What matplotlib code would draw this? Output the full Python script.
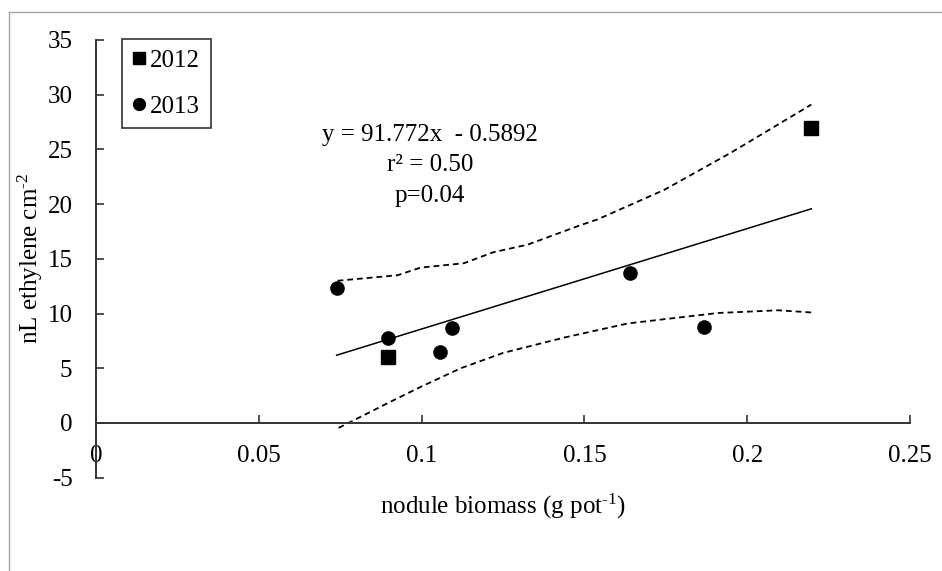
import matplotlib
matplotlib.use("Agg")
import matplotlib.pyplot as plt
from matplotlib.lines import Line2D

plt.rcParams["font.family"] = ["Liberation Serif", "DejaVu Serif"]
plt.rcParams["mathtext.fontset"] = "custom"
plt.rcParams["mathtext.rm"] = "Liberation Serif"
plt.rcParams["mathtext.default"] = "regular"
plt.rcParams["axes.unicode_minus"] = False

# data
x_2012 = [0.0898, 0.2197]
y_2012 = [6.05, 26.95]

x_2013 = [0.0739, 0.0898, 0.1093, 0.1057, 0.1639, 0.1866]
y_2013 = [12.3, 7.8, 8.65, 6.5, 13.75, 8.8]

slope, intercept = 91.772, -0.5892
fit_x = [0.0739, 0.2197]

upper_x = [0.0742, 0.0926, 0.0997, 0.113, 0.122, 0.1326, 0.149, 0.154, 0.1745, 0.195, 0.2197]
upper_y = [13.0, 13.5, 14.2, 14.6, 15.6, 16.3, 18.1, 18.6, 21.3, 24.7, 29.1]

lower_x = [0.0745, 0.0895, 0.0997, 0.112, 0.125, 0.1437, 0.1634, 0.191, 0.2095, 0.2197]
lower_y = [-0.45, 1.8, 3.3, 5.0, 6.4, 7.8, 9.1, 10.05, 10.3, 10.1]

x_ticks = [0, 0.05, 0.1, 0.15, 0.2, 0.25]
x_labels = ["0", "0.05", "0.1", "0.15", "0.2", "0.25"]
y_ticks = [-5, 0, 5, 10, 15, 20, 25, 30, 35]

FS = 18
AXC = "#333333"

fig = plt.figure(figsize=(9.42, 5.71), dpi=100)
ax = fig.add_axes([96 / 942, 1 - 477.7 / 571, 814 / 942, 437.7 / 571])

# outer chart-area border (only top and left are visible in the crop)
fig.add_artist(Line2D([9 / 942, 9 / 942], [0, 1 - 12 / 571], color="#a6a6a6", lw=1.0))
fig.add_artist(Line2D([9 / 942, 1], [1 - 12 / 571, 1 - 12 / 571], color="#a6a6a6", lw=1.0))

ax.plot(upper_x, upper_y, color="black", lw=1.3, dashes=(3.2, 2.2))
ax.plot(lower_x, lower_y, color="black", lw=1.3, dashes=(3.2, 2.2))
ax.plot(fit_x, [slope * v + intercept for v in fit_x], color="black", lw=1.1)

ax.plot(x_2012, y_2012, "s", color="black", ms=10, label="2012", clip_on=False)
ax.plot(x_2013, y_2013, "o", color="black", ms=9.5, label="2013", clip_on=False)

ax.set_xlim(0, 0.25)
ax.set_ylim(-5, 35)
ax.set_xticks(x_ticks)
ax.set_xticklabels(x_labels)
ax.set_yticks(y_ticks)

for s in ["top", "right"]:
    ax.spines[s].set_visible(False)
ax.spines["bottom"].set_position(("data", 0))
for s in ["left", "bottom"]:
    ax.spines[s].set_color(AXC)
    ax.spines[s].set_linewidth(1.4)

ax.tick_params(axis="y", direction="in", length=6, width=1.2, color=AXC,
               labelsize=FS, pad=17)
ax.tick_params(axis="x", direction="in", length=6, width=1.2, color=AXC,
               labelsize=FS, pad=16)

ax.set_xlabel(r"nodule biomass (g pot$^{\text{-}1}$)", fontsize=FS)
ax.xaxis.set_label_coords(0.5, -0.032)
ax.set_ylabel(r"nL ethylene cm$^{\text{-}2}$", fontsize=FS)
ax.yaxis.set_label_coords(-0.063, 0.5)

ax.text(0.1026, 26.35, "y = 91.772x  - 0.5892", fontsize=FS, ha="center", va="center")
ax.text(0.1026, 23.55, "r\u00b2 = 0.50", fontsize=FS, ha="center", va="center")
ax.text(0.1026, 20.75, "p=0.04", fontsize=FS, ha="center", va="center")

leg = ax.legend(loc="upper left", bbox_to_anchor=(0.032, 1.003), fontsize=FS,
                frameon=True, fancybox=False, handlelength=0.5, handletextpad=0.2,
                borderpad=0.42, labelspacing=0.95, borderaxespad=0, markerscale=0.9)
leg.get_frame().set_edgecolor("black")
leg.get_frame().set_linewidth(1.2)

fig.savefig("out.png", dpi=100)
